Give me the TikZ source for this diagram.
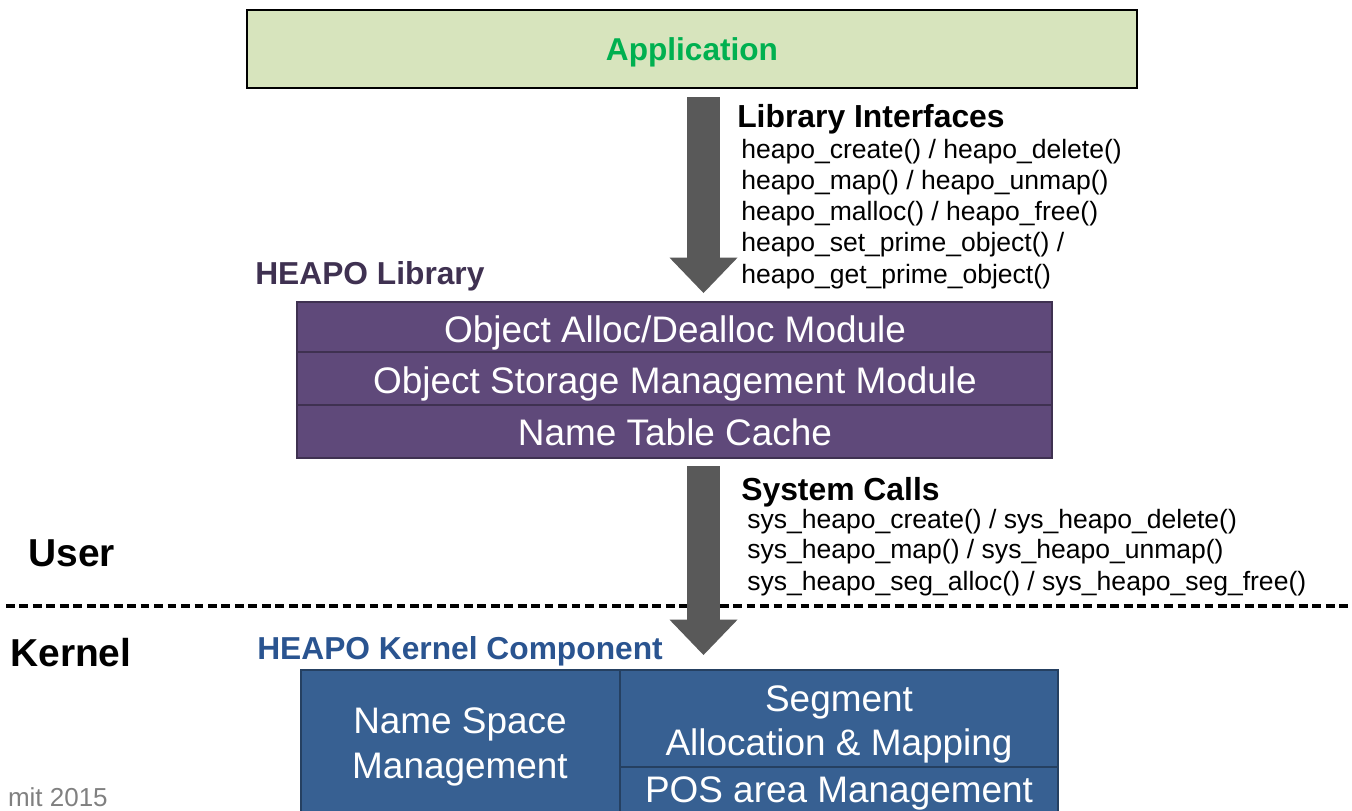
\documentclass[tikz,border=0pt]{standalone}
\usepackage{fontspec}
\setmainfont{Liberation Sans}
\usetikzlibrary{arrows.meta,fit}
\definecolor{appfill}{HTML}{D7E4BD}
\definecolor{appgreen}{HTML}{00B050}
\definecolor{libfill}{HTML}{5F497A}
\definecolor{libdark}{HTML}{3F3151}
\definecolor{kfill}{HTML}{376092}
\definecolor{kdark}{HTML}{254061}
\definecolor{ktext}{HTML}{2A5490}
\definecolor{arrowgray}{HTML}{595959}
\definecolor{footgray}{HTML}{808080}
\tikzset{
  box/.style={inner sep=0pt, outer sep=0pt},
  appbox/.style={box, draw=black, fill=appfill, line width=2.2pt},
  libbox/.style={box, draw=libdark, fill=libfill, line width=2pt},
  kbox/.style={box, draw=kdark, fill=kfill, line width=2pt},
  modtext/.style={text=white, inner sep=0pt, anchor=base, font=\fontsize{27.7}{33}\selectfont},
  head/.style={inner sep=0pt, anchor=base west, font=\fontsize{23.9}{28}\selectfont\bfseries},
  fn/.style={inner sep=0pt, anchor=base west, font=\fontsize{19.9}{23}\selectfont},
  bigarrow/.style={draw=arrowgray, line width=24.75pt, -{Triangle[width=51pt,length=26.5pt,line width=0pt]}},
}
\begin{document}
\begin{tikzpicture}[x=0.75pt,y=-0.75pt]
\useasboundingbox (0,0) rectangle (1352,810);
% dashed divider
\coordinate (dl) at (6,606);
\coordinate (dr) at (1352,606);
\draw[line width=2.3pt, dash pattern=on 6.6pt off 3.5pt] (dl) -- (dr);
% Application
\node[appbox, fit={(247,10) (1137,88)}] (app) {};
\node[inner sep=0pt, anchor=base, text=appgreen, font=\fontsize{23.7}{28}\selectfont\bfseries] (apptext) at (692,60) {Application};
% HEAPO library
\node[inner sep=0pt, anchor=base west, text=libdark, font=\fontsize{23.8}{28}\selectfont\bfseries] (libtitle) at (255,284) {HEAPO Library};
\node[libbox, fit={(297,302) (1052,352)}] (m1) {};
\node[libbox, fit={(297,352) (1052,405)}] (m2) {};
\node[libbox, fit={(297,405) (1052,458)}] (m3) {};
\node[modtext] (m1t) at (675,342) {Object Alloc/Dealloc Module};
\node[modtext] (m2t) at (675,393) {Object Storage Management Module};
\node[modtext] (m3t) at (675,445) {Name Table Cache};
% Arrow 1
\coordinate (a1s) at (703.5,97);
\coordinate (a1e) at (703.5,293);
\draw[bigarrow] (a1s) -- (a1e);
\node[head] (libif) at (737,127) {Library Interfaces};
\node[fn] (l1) at (741,158) {heapo\_create() / heapo\_delete()};
\node[fn] (l2) at (741,189) {heapo\_map() / heapo\_unmap()};
\node[fn] (l3) at (741,220) {heapo\_malloc() / heapo\_free()};
\node[fn] (l4) at (741,251) {heapo\_set\_prime\_object() /};
\node[fn] (l5) at (741,283) {heapo\_get\_prime\_object()};
% Arrow 2
\coordinate (a2s) at (703.5,466);
\coordinate (a2e) at (703.5,655);
\draw[bigarrow] (a2s) -- (a2e);
\node[head] (syscalls) at (741,500) {System Calls};
\node[fn] (s1) at (747,528) {sys\_heapo\_create() / sys\_heapo\_delete()};
\node[fn] (s2) at (747,558) {sys\_heapo\_map() / sys\_heapo\_unmap()};
\node[fn] (s3) at (747,590) {sys\_heapo\_seg\_alloc() / sys\_heapo\_seg\_free()};
% User / Kernel labels
\node[inner sep=0pt, anchor=base west, font=\fontsize{29.2}{34}\selectfont\bfseries] (user) at (28,566) {User};
\node[inner sep=0pt, anchor=base west, font=\fontsize{29.2}{34}\selectfont\bfseries] (kernel) at (10,666) {Kernel};
% Kernel component
\node[inner sep=0pt, anchor=base west, text=ktext, font=\fontsize{23.8}{28}\selectfont\bfseries] (ktitle) at (257,659) {HEAPO Kernel Component};
\node[kbox, fit={(301,670) (620,830)}] (k1) {};
\node[kbox, fit={(620,670) (1058,767)}] (k2) {};
\node[kbox, fit={(620,767) (1058,830)}] (k3) {};
\node[modtext] (k1a) at (460,733) {Name Space};
\node[modtext] (k1b) at (460,778) {Management};
\node[modtext] (k2a) at (839,711) {Segment};
\node[modtext] (k2b) at (839,755) {Allocation \& Mapping};
\node[modtext] (k3t) at (839,802) {POS area Management};
% footer
\node[inner sep=0pt, anchor=base east, text=footgray, font=\fontsize{19.5}{23}\selectfont] (foot) at (108,806) {mit 2015};
\end{tikzpicture}
\end{document}
